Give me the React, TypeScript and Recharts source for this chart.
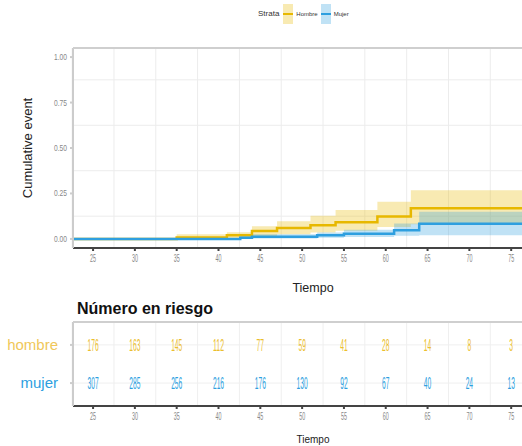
import React from "react";
import { ComposedChart, Area, Line, XAxis, YAxis, CartesianGrid, Scatter } from "recharts";

const HOMBRE = "#E7B800";
const MUJER = "#2E9FDF";
const NARROW = "'Liberation Sans Narrow', 'Liberation Sans', sans-serif";

const xTicks = [25, 30, 35, 40, 45, 50, 55, 60, 65, 70, 75];
const xMinor = [22.5, 27.5, 32.5, 37.5, 42.5, 47.5, 52.5, 57.5, 62.5, 67.5, 72.5, 77.5];
const yTicks = [0, 0.25, 0.5, 0.75, 1];
const yMinor = [0.125, 0.375, 0.625, 0.875];

// cumulative event curves (step)
const hombreTime = [22.6, 35, 41, 44, 47, 51, 54, 59, 63, 80];
const hombreEst = [0, 0.008, 0.02, 0.043, 0.06, 0.075, 0.091, 0.123, 0.168, 0.168];
const hombreLow = [0, 0, 0.005, 0.015, 0.025, 0.035, 0.045, 0.065, 0.08, 0.08];
const hombreUp = [0, 0.025, 0.037, 0.07, 0.097, 0.127, 0.159, 0.204, 0.267, 0.267];

const mujerTime = [22.6, 42.6, 44, 51.8, 55, 61, 64, 80];
const mujerEst = [0, 0.007, 0.012, 0.02, 0.028, 0.047, 0.084, 0.084];
const mujerLow = [0, 0, 0.002, 0.006, 0.01, 0.018, 0.02, 0.02];
const mujerUp = [0, 0.015, 0.025, 0.035, 0.05, 0.085, 0.15, 0.15];

// number at risk
const riskTime = [25, 30, 35, 40, 45, 50, 55, 60, 65, 70, 75];
const hombreRisk = [176, 163, 145, 112, 77, 59, 41, 28, 14, 8, 3];
const mujerRisk = [307, 285, 256, 216, 176, 130, 92, 67, 40, 24, 13];

const stepAt = (times: number[], vals: number[], t: number) => {
  let v = vals[0];
  times.forEach((s, i) => {
    if (s <= t) v = vals[i];
  });
  return v;
};

const allTimes = Array.from(new Set([...hombreTime, ...mujerTime])).sort((a, b) => a - b);
const curveData = allTimes.map((t) => ({
  t,
  hEst: stepAt(hombreTime, hombreEst, t),
  hBand: [stepAt(hombreTime, hombreLow, t), stepAt(hombreTime, hombreUp, t)],
  mEst: stepAt(mujerTime, mujerEst, t),
  mBand: [stepAt(mujerTime, mujerLow, t), stepAt(mujerTime, mujerUp, t)],
}));

const riskData = [
  ...riskTime.map((t, i) => ({ t, row: 2, n: hombreRisk[i], color: "#EBBE2E" })),
  ...riskTime.map((t, i) => ({ t, row: 1, n: mujerRisk[i], color: MUJER })),
];

const DOMAIN: [number, number] = [22.6, 80];
const W = 580;

const XTick = (props: any) => {
  const { x, y, payload } = props;
  const s = String(payload.value);
  return (
    <text x={x} y={y + 9} textAnchor="middle" fontSize={10} fill="#888" fontFamily={NARROW}
      textLength={s.length * 3} lengthAdjust="spacingAndGlyphs">
      {s}
    </text>
  );
};

const YTick = (props: any) => {
  const { x, y, payload } = props;
  const s = payload.value.toFixed(2);
  return (
    <text x={x - 1} y={y + 3} textAnchor="end" fontSize={9} fill="#888" fontFamily={NARROW}
      textLength={13} lengthAdjust="spacingAndGlyphs">
      {s}
    </text>
  );
};

const RowTick = (props: any) => {
  const { x, y, payload } = props;
  const hombre = payload.value === 2;
  return (
    <text x={x - 10} y={y + 5} textAnchor="end" fontSize={15} fill={hombre ? "#F0C75A" : MUJER}
      fontFamily="'Liberation Sans', sans-serif">
      {hombre ? "hombre" : "mujer"}
    </text>
  );
};

const RiskLabel = (props: any) => {
  const { cx, cy, payload } = props;
  const s = String(payload.n);
  return (
    <text x={cx} y={cy + 6} textAnchor="middle" fontSize={16} fill={payload.color}
      fontFamily={NARROW} textLength={s.length * 3.7} lengthAdjust="spacingAndGlyphs">
      {s}
    </text>
  );
};

export default function App() {
  return (
    <div style={{ position: "fixed", left: 0, top: 0, width: 522, height: 446, overflow: "hidden", background: "#fff", fontFamily: "'Liberation Sans', sans-serif" }}>
      {/* legend */}
      <div style={{ position: "absolute", left: 258, top: 3, height: 21, display: "flex", alignItems: "center", fontSize: 8, color: "#333", fontFamily: NARROW }}>
        <span style={{ marginRight: 4 }}>Strata</span>
        <span style={{ width: 10, height: 20, background: "rgba(231,184,0,0.3)", position: "relative", display: "inline-block" }}>
          <span style={{ position: "absolute", left: 0, right: 0, top: 9, height: 2, background: HOMBRE }} />
        </span>
        <span style={{ fontSize: 6, margin: "0 3px" }}>Hombre</span>
        <span style={{ width: 10, height: 20, background: "rgba(46,159,223,0.3)", position: "relative", display: "inline-block" }}>
          <span style={{ position: "absolute", left: 0, right: 0, top: 9, height: 2, background: MUJER }} />
        </span>
        <span style={{ fontSize: 6, marginLeft: 3 }}>Mujer</span>
      </div>

      <div style={{ position: "absolute", left: 0, top: 0 }}>
        <ComposedChart width={W} height={300} data={curveData} margin={{ top: 48, right: 27, bottom: 0, left: 0 }}>
          <CartesianGrid stroke="#ececec" strokeWidth={1}
            verticalValues={[...xTicks, ...xMinor]} horizontalValues={[...yTicks, ...yMinor]} />
          <XAxis dataKey="t" type="number" domain={DOMAIN} ticks={xTicks} allowDataOverflow
            height={52} tick={<XTick />} tickSize={3} stroke="#444" strokeWidth={2}
            label={{ value: "Tiempo", position: "insideBottom", offset: 8, fontSize: 12.5, fill: "#222" }} />
          <YAxis type="number" domain={[-0.05, 1.05]} ticks={yTicks} allowDataOverflow width={73}
            tick={<YTick />} tickSize={3} stroke="#ccc" strokeWidth={2}
            label={{ value: "Cumulative event", angle: -90, position: "insideLeft", offset: 27, fontSize: 13, fill: "#222", style: { textAnchor: "middle" } }} />
          <Line dataKey="hEst" type="stepAfter" stroke={HOMBRE} strokeWidth={2.5} dot={false} isAnimationActive={false} />
          <Line dataKey="mEst" type="stepAfter" stroke={MUJER} strokeWidth={2.5} dot={false} isAnimationActive={false} />
          <Area dataKey="hBand" type="stepAfter" fill={HOMBRE} fillOpacity={0.3} stroke="none" isAnimationActive={false} />
          <Area dataKey="mBand" type="stepAfter" fill={MUJER} fillOpacity={0.3} stroke="none" isAnimationActive={false} />
        </ComposedChart>
        <div style={{ position: "absolute", left: 73, top: 47, width: 480, height: 2, background: "#cfcfcf" }} />
      </div>

      <div style={{ position: "absolute", left: 77, top: 300, fontSize: 16, fontWeight: "bold", color: "#111" }}>
        Número en riesgo
      </div>

      <div style={{ position: "absolute", left: 0, top: 300 }}>
        <ComposedChart width={W} height={146} data={riskData} margin={{ top: 22, right: 27, bottom: 0, left: 0 }}>
          <CartesianGrid stroke="#efefef" strokeWidth={1}
            verticalValues={[...xTicks, ...xMinor]} horizontalValues={[1, 2]} />
          <XAxis dataKey="t" type="number" domain={DOMAIN} ticks={xTicks} allowDataOverflow
            height={40} tick={<XTick />} tickSize={3} stroke="#444" strokeWidth={2}
            label={{ value: "Tiempo", position: "insideBottom", offset: 3, fontSize: 10, fill: "#222" }} />
          <YAxis dataKey="row" type="number" domain={[0.4, 2.6]} ticks={[1, 2]} allowDataOverflow width={73}
            tick={<RowTick />} tickSize={3} stroke="#ccc" strokeWidth={2} />
          <Scatter dataKey="row" shape={<RiskLabel />} isAnimationActive={false} />
        </ComposedChart>
        <div style={{ position: "absolute", left: 73, top: 21, width: 480, height: 2, background: "#cfcfcf" }} />
      </div>
    </div>
  );
}
